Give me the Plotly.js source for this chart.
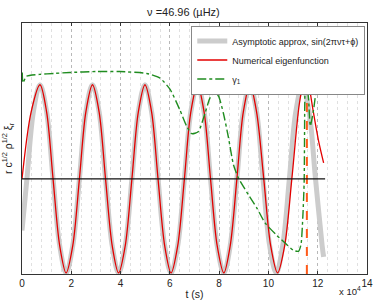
<!DOCTYPE html>
<html>
<head>
<meta charset="utf-8">
<script src="https://cdn.plot.ly/plotly-3.0.1.min.js"></script>
<style>html,body{margin:0;padding:0;background:#fff}#chart{width:374px;height:300px}</style>
</head>
<body>
<div id="chart"></div>
<script>
// time in units of 10^4 s
const asymT = [0, 0.20, 0.46, 0.73, 1.00, 1.26, 1.53, 1.79, 2.06, 2.33, 2.59, 2.86, 3.13, 3.39, 3.66, 3.92, 4.19, 4.46, 4.72, 4.99, 5.26, 5.52, 5.79, 6.05, 6.32, 6.59, 6.85, 7.12, 7.39, 7.65, 7.92, 8.19, 8.45, 8.72, 8.98, 9.25, 9.52, 9.78, 10.05, 10.32, 10.58, 10.85, 11.11, 11.38, 11.65, 11.91, 12.18, 12.24];
const asymY = [-0.55, 0, 0.71, 1, 0.71, 0, -0.71, -1, -0.71, 0, 0.71, 1, 0.71, 0, -0.71, -1, -0.71, 0, 0.71, 1, 0.71, 0, -0.71, -1, -0.71, 0, 0.71, 1, 0.71, 0, -0.71, -1, -0.71, 0, 0.71, 1, 0.71, 0, -0.71, -1, -0.71, 0, 0.71, 1, 0.71, 0, -0.71, -0.83];

const numT = [0, 0.37, 0.73, 1.00, 1.26, 1.53, 1.79, 2.06, 2.33, 2.59, 2.86, 3.13, 3.39, 3.66, 3.92, 4.19, 4.46, 4.72, 4.99, 5.26, 5.52, 5.79, 6.05, 6.32, 6.59, 6.85, 7.12, 7.39, 7.65, 7.92, 8.19, 8.45, 8.72, 8.98, 9.25, 9.52, 9.81, 10.09, 10.37, 10.66, 10.95, 11.25, 11.42, 11.56, 11.70, 11.83, 12.03, 12.24];
const numY = [0, 0.71, 1, 0.71, 0, -0.71, -1, -0.71, 0, 0.71, 1, 0.71, 0, -0.71, -1, -0.71, 0, 0.71, 1, 0.71, 0, -0.71, -1, -0.71, 0, 0.71, 1, 0.71, 0, -0.71, -1, -0.71, 0, 0.71, 1, 0.71, 0, -0.71, -1, -0.71, 0, 0.79, 1.02, 1.12, 0.91, 0.70, 0.41, 0.17];

const gammaT = [0.01, 0.04, 0.18, 0.72, 1.30, 1.94, 3.00, 3.97, 5.06, 5.60, 6.01, 6.41, 6.68, 6.89, 7.15, 7.43, 7.63, 7.80, 7.97, 8.17, 8.37, 8.58, 8.78, 9.19, 9.53, 9.87, 10.34, 10.75, 11.02, 11.22, 11.32, 11.40, 11.45, 11.49, 11.52, 11.63, 11.70, 11.83, 11.97, 12.17];
const gammaY = [1.13, 1.02, 1.09, 1.11, 1.12, 1.13, 1.14, 1.14, 1.12, 1.07, 0.95, 0.73, 0.56, 0.48, 0.50, 0.70, 0.86, 0.91, 0.88, 0.70, 0.45, 0.15, 0.01, -0.17, -0.31, -0.47, -0.60, -0.70, -0.76, -0.77, -0.70, -0.38, -0.03, 1.05, 1.11, 0.84, 0.56, 0.73, 0.98, 1.09];

const zeroT = [0, 12.3];
const zeroY = [0, 0];

const markT = [11.56, 11.56];
const markY = [-1.01, 1.12];

const tickVals = [0, 2, 4, 6, 8, 10, 12, 14];
const tickText = ['0', '2', '4', '6', '8', '10', '12', '14'];

const font = 'Liberation Sans, Arial, Helvetica, sans-serif';

const traces = [
  {x: asymT, y: asymY, mode: 'lines', name: 'Asymptotic approx, sin(2πντ+ϕ)',
   line: {color: '#cccccc', width: 5, shape: 'spline', smoothing: 1}},
  {x: numT, y: numY, mode: 'lines', name: 'Numerical eigenfunction',
   line: {color: '#e30000', width: 1.3, shape: 'spline', smoothing: 0.9}},
  {x: gammaT, y: gammaY, mode: 'lines', name: 'γ<sub>1</sub>',
   line: {color: '#1f8c1f', width: 1.4, dash: 'dashdot', shape: 'spline', smoothing: 0.6}},
  {x: markT, y: markY, mode: 'lines', showlegend: false,
   line: {color: '#ff5a1a', width: 2, dash: 'dash'}},
  {x: zeroT, y: zeroY, mode: 'lines', showlegend: false,
   line: {color: '#111111', width: 1.3}}
];

const layout = {
  width: 374, height: 300,
  margin: {l: 22, r: 7, t: 23, b: 26, pad: 0},
  paper_bgcolor: '#ffffff', plot_bgcolor: '#ffffff',
  font: {family: font, size: 10, color: '#222'},
  title: {text: 'ν =46.96 (µHz)', x: 175/374, xanchor: 'center', xref: 'paper', y: 0.96, yanchor: 'middle', font: {family: font, size: 11, color: '#222'}},
  showlegend: true,
  legend: {x: 0.995, xanchor: 'right', y: 0.99, yanchor: 'top', bgcolor: '#ffffff', bordercolor: '#888', borderwidth: 1,
           font: {family: font, size: 9, color: '#222'}, itemwidth: 30, tracegroupgap: 0},
  xaxis: {range: [0, 14], tickvals: tickVals, ticktext: tickText, ticks: 'inside', ticklen: 3, tickcolor: '#333',
          showline: true, linecolor: '#333', linewidth: 1, mirror: 'ticks', zeroline: false,
          showgrid: true, gridcolor: '#b8b8b8', griddash: 'dot', gridwidth: 1,
          minor: {dtick: 0.4, showgrid: true, gridcolor: '#e0e0e0', griddash: 'dot', gridwidth: 1, ticks: ''},
          tickfont: {family: font, size: 10, color: '#222'},
          title: {text: 't (s)', standoff: 2, font: {family: font, size: 10.5, color: '#222'}}},
  yaxis: {range: [-1.011, 1.656], showticklabels: false, ticks: '', showgrid: false, zeroline: false,
          showline: true, linecolor: '#333', linewidth: 1, mirror: true,
          title: {text: 'r c<sup>1/2</sup> ρ<sup>1/2</sup> ξ<sub>r</sub>', standoff: 6, font: {family: font, size: 10.5, color: '#222'}}},
  annotations: [
    {text: 'x 10<sup>4</sup>', xref: 'paper', yref: 'paper', x: 0.988, xanchor: 'right', y: -0.1, yanchor: 'bottom', showarrow: false,
     font: {family: font, size: 9.5, color: '#222'}}
  ]
};

Plotly.newPlot('chart', traces, layout, {displayModeBar: false, staticPlot: true});
</script>
</body>
</html>
